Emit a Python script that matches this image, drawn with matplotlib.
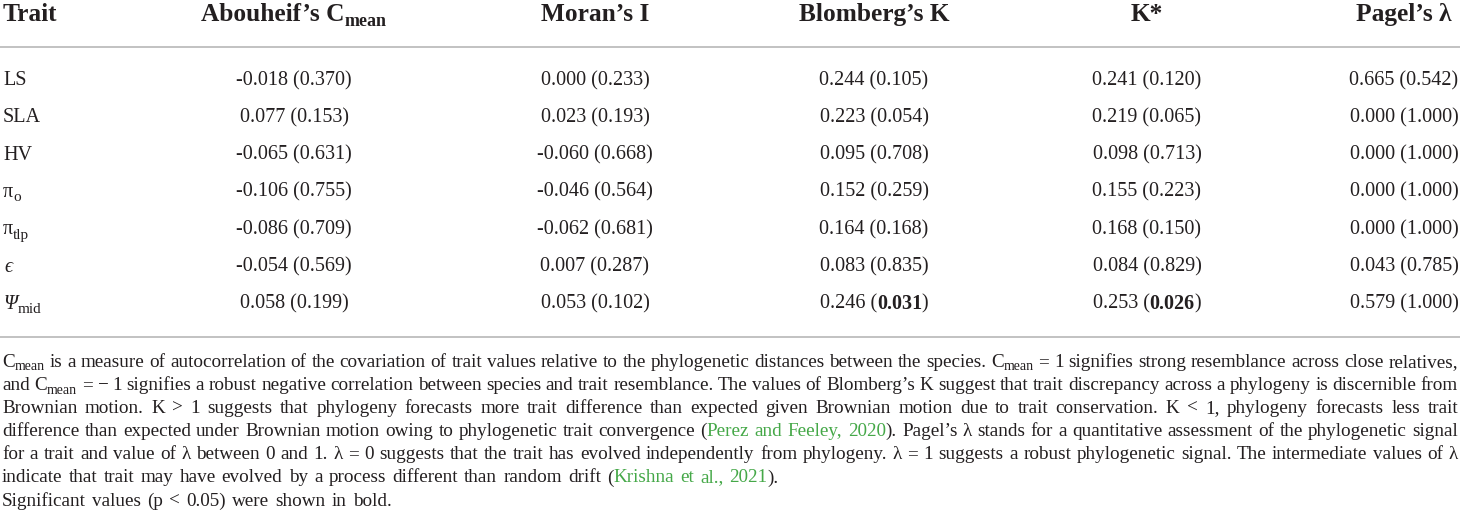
import re
import matplotlib
matplotlib.use('Agg')
import matplotlib.pyplot as plt
from matplotlib.font_manager import FontProperties

# ---------------- data ----------------
columns = ["Abouheif’s C", "Moran’s I", "Blomberg’s K", "K*", "Pagel’s λ"]
column_subs = ["mean", "", "", "", ""]
traits = ["LS", "SLA", "HV", "π", "π", "ϵ", "Ψ"]
trait_subs = ["", "", "", "o", "tlp", "", "mid"]
trait_italic = [False, False, False, False, False, True, True]

cmean = [-0.018, 0.077, -0.065, -0.106, -0.086, -0.054, 0.058]
cmean_p = [0.370, 0.153, 0.631, 0.755, 0.709, 0.569, 0.199]
moran = [0.000, 0.023, -0.060, -0.046, -0.062, 0.007, 0.053]
moran_p = [0.233, 0.193, 0.668, 0.564, 0.681, 0.287, 0.102]
blomK = [0.244, 0.223, 0.095, 0.152, 0.164, 0.083, 0.246]
blomK_p = [0.105, 0.054, 0.708, 0.259, 0.168, 0.835, 0.031]
kstar = [0.241, 0.219, 0.098, 0.155, 0.168, 0.084, 0.253]
kstar_p = [0.120, 0.065, 0.713, 0.223, 0.150, 0.829, 0.026]
pagel = [0.665, 0.000, 0.000, 0.000, 0.000, 0.043, 0.579]
pagel_p = [0.542, 1.000, 1.000, 1.000, 1.000, 0.785, 1.000]

stats = [cmean, moran, blomK, kstar, pagel]
pvals = [cmean_p, moran_p, blomK_p, kstar_p, pagel_p]
alpha = 0.05

footnote_lines = [
    "C_{mean} is a measure of autocorrelation of the covariation of trait values relative to the phylogenetic distances between the species. C_{mean} = 1 signifies strong resemblance across close relatives,",
    "and C_{mean} = − 1 signifies a robust negative correlation between species and trait resemblance. The values of Blomberg’s K suggest that trait discrepancy across a phylogeny is discernible from",
    "Brownian motion. K > 1 suggests that phylogeny forecasts more trait difference than expected given Brownian motion due to trait conservation. K < 1, phylogeny forecasts less trait",
    "difference than expected under Brownian motion owing to phylogenetic trait convergence («Perez» «and» «Feeley,» «2020»). Pagel’s λ stands for a quantitative assessment of the phylogenetic signal",
    "for a trait and value of λ between 0 and 1. λ = 0 suggests that the trait has evolved independently from phylogeny. λ = 1 suggests a robust phylogenetic signal. The intermediate values of λ",
    "indicate that trait may have evolved by a process different than random drift («Krishna» «et» «al.,» «2021»).",
    "Significant values (p < 0.05) were shown in bold.",
]
justified = [True, True, True, True, True, False, False]

# ---------------- layout ----------------
W, H = 1460, 525
TXT = '#231f20'
GREEN = '#45a848'
RULE = '#b8b8b8'
FAM = ['Liberation Serif', 'DejaVu Serif']

fig = plt.figure(figsize=(14.6, 5.25), dpi=100)
ax = fig.add_axes([0, 0, 1, 1])
ax.set_xlim(0, W)
ax.set_ylim(H, 0)
ax.axis('off')
renderer = fig.canvas.get_renderer()


def fp(size, bold=False, italic=False):
    return FontProperties(family=FAM, size=size,
                          weight='bold' if bold else 'normal',
                          style='italic' if italic else 'normal')


def measure(s, prop):
    t = ax.text(0, 0, s, fontproperties=prop)
    w = t.get_window_extent(renderer).width
    t.remove()
    return w


def runs_width(runs):
    return sum(measure(s, p) for s, p, dy, c in runs)


def draw_runs(x, y, runs):
    for s, p, dy, c in runs:
        ax.text(x, y + dy, s, fontproperties=p, color=c, va='baseline', ha='left')
        x += measure(s, p)
    return x


def draw_centered(cx, y, runs):
    w = runs_width(runs)
    draw_runs(cx - w / 2, y, runs)


# rules
for yy in (47, 337):
    ax.plot([0, W], [yy, yy], color=RULE, lw=1.2, solid_capstyle='butt')

col_x = [294, 595, 874, 1147, 1404]
header_y = 21
row_y0, row_dy = 85, 37.3

HDR, HDR_SUB = 18.3, 13
BODY, BODY_SUB = 14.5, 10.5

# header
ax.text(3, header_y, "Trait", fontproperties=fp(HDR, bold=True), color=TXT, va='baseline')
for cx, name, sub in zip(col_x, columns, column_subs):
    runs = [(name, fp(HDR, bold=True), 0, TXT)]
    if sub:
        runs.append((sub, fp(HDR_SUB, bold=True), 4.5, TXT))
    draw_centered(cx, header_y, runs)

# body
for i, (t, sub, it) in enumerate(zip(traits, trait_subs, trait_italic)):
    y = row_y0 + i * row_dy
    runs = [(t, fp(BODY, italic=it), 0, TXT)]
    if sub:
        runs.append((sub, fp(BODY_SUB + 0.5), 4.5, TXT))
    draw_runs(3 if not it else 4, y, runs)
    for j, cx in enumerate(col_x):
        v = stats[j][i]
        p = pvals[j][i]
        if p < alpha:
            cell = [(f"{v:.3f} (", fp(BODY), 0, TXT),
                    (f"{p:.3f}", fp(BODY, bold=True), 0, TXT),
                    (")", fp(BODY), 0, TXT)]
            draw_centered(cx, y, cell)
        else:
            ax.text(cx, y, f"{v:.3f} ({p:.3f})", fontproperties=fp(BODY),
                    color=TXT, va='baseline', ha='center')

# footnote
FN, FN_SUB = 13.8, 10
fn_y0, fn_dy = 367, 23.1
space_w = measure("a a", fp(FN)) - measure("aa", fp(FN))


def parse_word(word):
    runs = []
    for seg in re.split(r'(_\{[^}]*\}|«[^»]*»)', word):
        if not seg:
            continue
        if seg.startswith('_{'):
            runs.append((seg[2:-1], fp(FN_SUB), 3.5, TXT))
        elif seg.startswith('«'):
            runs.append((seg[1:-1], fp(FN), 0, GREEN))
        else:
            runs.append((seg, fp(FN), 0, TXT))
    return runs


right_edge = 1458
for k, (line, just) in enumerate(zip(footnote_lines, justified)):
    y = fn_y0 + k * fn_dy
    words = [parse_word(w) for w in line.split(' ')]
    widths = [runs_width(w) for w in words]
    if just and len(words) > 1:
        gap = (right_edge - 2 - sum(widths)) / (len(words) - 1)
    else:
        gap = space_w * 1.3
    x = 2
    for w, wd in zip(words, widths):
        draw_runs(x, y, w)
        x += wd + gap

fig.savefig('out.png', dpi=100, facecolor='white')
